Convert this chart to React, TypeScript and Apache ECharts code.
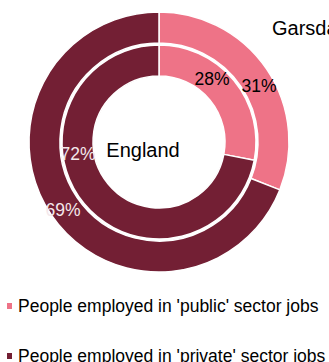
import React, { useEffect, useRef } from 'react';
import * as echarts from 'echarts';

const categories = [
  "People employed in 'public' sector jobs",
  "People employed in 'private' sector jobs",
];
const englandValues = [28, 72];
const garsdaleValues = [31, 69];
const areaNames = ['England', 'Garsdale'];
const colors = ['#EE7387', '#731F34'];
const labelColors = ['#000000', '#F4E8EB'];

// label layout (positions only, not data)
const innerLabelPos = [[212, 79], [78, 154]];
const outerLabelPos = [[259, 86], [63, 210]];
const legendTops = [296, 346];

const FONT = "'Liberation Sans', Arial, sans-serif";

export default function App() {
  const ref = useRef<HTMLDivElement>(null);
  useEffect(() => {
    if (!ref.current) return;
    const chart = echarts.init(ref.current, undefined, { renderer: 'svg' });
    const mkData = (vals: number[]) =>
      vals.map((v, i) => ({
        name: categories[i],
        value: v,
        itemStyle: { color: colors[i] },
        label: { color: labelColors[i] },
      }));
    const labelCommon = {
      show: true,
      position: 'inside',
      formatter: '{c}%',
      fontSize: 17.5,
      fontFamily: FONT,
    };
    chart.setOption({
      animation: false,
      textStyle: { fontFamily: FONT },
      legend: categories.map((c, i) => ({
        orient: 'vertical',
        left: 5,
        top: legendTops[i],
        padding: 0,
        itemWidth: 7,
        itemHeight: 8,
        itemGap: 3,
        icon: 'rect',
        data: [c],
        textStyle: { fontSize: 17.5, color: '#000', fontFamily: FONT, lineHeight: 20 },
      })),
      graphic: [
        {
          type: 'text',
          x: 143,
          y: 150,
          style: {
            text: areaNames[0],
            fontSize: 20,
            fontFamily: FONT,
            fill: '#000',
            textAlign: 'center',
            textVerticalAlign: 'middle',
          },
        },
        {
          type: 'text',
          x: 272,
          y: 28,
          style: {
            text: areaNames[1],
            fontSize: 20,
            fontFamily: FONT,
            fill: '#000',
            textAlign: 'left',
            textVerticalAlign: 'middle',
          },
        },
      ],
      series: [
        {
          name: areaNames[0],
          type: 'pie',
          center: [159, 142],
          radius: [66, 97],
          startAngle: 90,
          clockwise: true,
          silent: true,
          itemStyle: { borderColor: '#fff', borderWidth: 1.5 },
          label: labelCommon,
          labelLine: { show: false },
          labelLayout: (p: any) => {
            const pos = innerLabelPos[p.dataIndex];
            return { x: pos[0], y: pos[1], align: 'center', verticalAlign: 'middle' };
          },
          data: mkData(englandValues),
        },
        {
          name: areaNames[1],
          type: 'pie',
          center: [159, 142],
          radius: [99, 130],
          startAngle: 90,
          clockwise: true,
          silent: true,
          itemStyle: { borderColor: '#fff', borderWidth: 1.5 },
          label: labelCommon,
          labelLine: { show: false },
          labelLayout: (p: any) => {
            const pos = outerLabelPos[p.dataIndex];
            return { x: pos[0], y: pos[1], align: 'center', verticalAlign: 'middle' };
          },
          data: mkData(garsdaleValues),
        },
      ],
    });
    return () => chart.dispose();
  }, []);
  return (
    <div
      ref={ref}
      style={{ position: 'fixed', left: 0, top: 0, width: 329, height: 362, background: '#fff' }}
    />
  );
}
